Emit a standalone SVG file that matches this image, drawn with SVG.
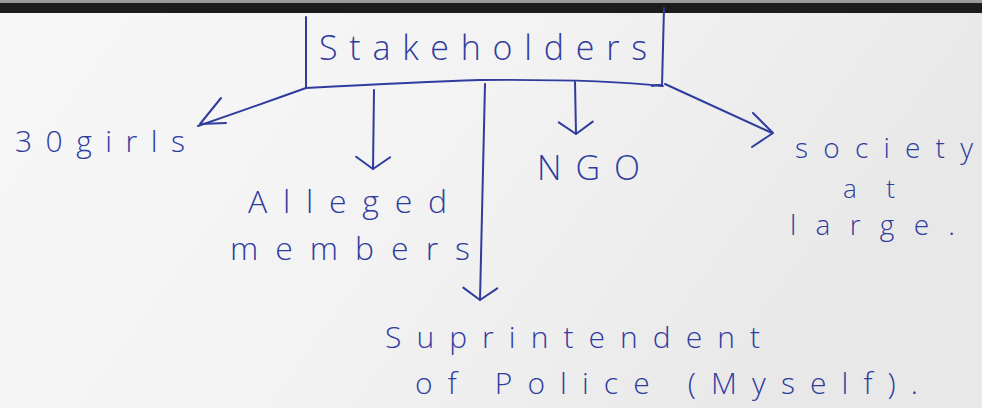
<svg xmlns="http://www.w3.org/2000/svg" width="982" height="408" viewBox="0 0 982 408">
<defs>
<linearGradient id="paper" x1="0" y1="0" x2="1" y2="0.3">
<stop offset="0" stop-color="#f7f7f7"/>
<stop offset="0.5" stop-color="#f3f3f3"/>
<stop offset="1" stop-color="#e8e8e8"/>
</linearGradient>
<marker id="open" markerUnits="userSpaceOnUse" markerWidth="40" markerHeight="40" viewBox="-20 -20 40 40" refX="0" refY="0" orient="auto">
<path d="M-12,-17 L0,0 L-12,17" fill="none" stroke="#2f3c9e" stroke-width="2" stroke-linecap="round" stroke-linejoin="round"/>
</marker>
<style>
.ink{fill:none;stroke:#2f3c9e;stroke-width:2;stroke-linecap:round;stroke-linejoin:round}
.t{font-family:"Open Sans","DejaVu Sans",sans-serif;font-weight:300;fill:#2f3c9e}
</style>
</defs>
<rect x="0" y="0" width="982" height="408" fill="url(#paper)"/>
<rect x="0" y="0" width="982" height="3" fill="#9a9a9a"/>
<rect x="0" y="3" width="982" height="10" fill="#1c1c1c"/>
<g id="stakeholders">
<path class="ink" d="M306,17 L306,88 Q420,82 480,80 Q600,79 662,86 L664,8"/>
<path class="ink" d="M652,86 Q660,84 663,86"/>
<text class="t" x="319" y="60" font-size="34" textLength="328" lengthAdjust="spacing">Stakeholders</text>
</g>
<g id="connectors">
<path class="ink" d="M306,88 Q250,108 198,126"/>
<path class="ink" d="M200,124 L221,98 M200,124 L226,123"/>
<path class="ink" d="M374,90 L373,169" marker-end="url(#open)"/>
<path class="ink" d="M485,84 L480,300" marker-end="url(#open)"/>
<path class="ink" d="M575,82 L576,134" marker-end="url(#open)"/>
<path class="ink" d="M665,84 L772,133"/>
<path class="ink" d="M753,113 L773,133 L752,147"/>
</g>
<g id="girls">
<text class="t" x="15" y="152" font-size="30" textLength="170" lengthAdjust="spacing">30girls</text>
</g>
<g id="alleged-members">
<text class="t" x="248" y="213" font-size="32" textLength="199" lengthAdjust="spacing">Alleged</text>
<text class="t" x="230" y="260" font-size="32" textLength="240" lengthAdjust="spacing">members</text>
</g>
<g id="ngo">
<text class="t" x="537" y="180" font-size="34" textLength="103" lengthAdjust="spacing">NGO</text>
</g>
<g id="society">
<text class="t" x="795" y="158" font-size="28" textLength="178" lengthAdjust="spacing">society</text>
<text class="t" x="843" y="198" font-size="26" textLength="52" lengthAdjust="spacing">at</text>
<text class="t" x="790" y="235" font-size="28" textLength="165" lengthAdjust="spacing">large.</text>
</g>
<g id="superintendent">
<text class="t" x="385" y="348" font-size="30" textLength="375" lengthAdjust="spacing">Suprintendent</text>
<text class="t" x="415" y="394" font-size="30" textLength="503" lengthAdjust="spacing">of Police (Myself).</text>
</g>
</svg>
